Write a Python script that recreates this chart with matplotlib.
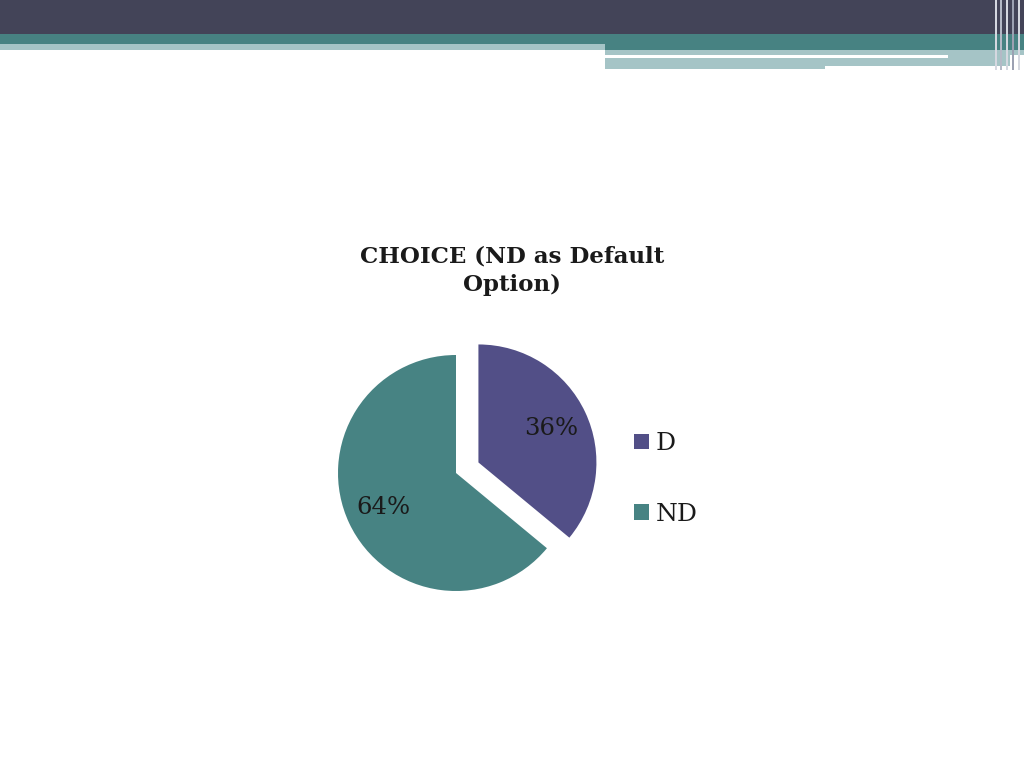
import matplotlib.pyplot as plt
from matplotlib.patches import Rectangle

# chart data
labels = ['D', 'ND']
shares = [36, 64]
colours = ['#524f87', '#478383']
title = 'CHOICE (ND as Default\nOption)'

W, H = 1024, 768
fig = plt.figure(figsize=(W / 100, H / 100), dpi=100)
fig.patch.set_facecolor('white')


def band(x0, y0, x1, y1, colour):
    # pixel box, y measured from the top
    fig.patches.append(Rectangle((x0 / W, 1 - y1 / H), (x1 - x0) / W, (y1 - y0) / H,
                                 transform=fig.transFigure, facecolor=colour,
                                 edgecolor='none', zorder=0))


# slide header
band(0, 0, W, 34, '#434458')
band(0, 34, W, 44, '#478282')
band(0, 44, 605, 50, '#a5c4c6')
band(605, 44, W, 50, '#478282')
band(605, 50, W, 55, '#a5c4c6')
band(605, 58, 948, 66, '#a5c4c6')
band(948, 55, 1010, 66, '#a5c4c6')
band(605, 66, 825, 69, '#a5c4c6')
for xv, c in [(995, '#d5d8e0'), (1000, '#b4b9c6'), (1006, '#d5d8e0'), (1012, '#9ca1b2'), (1018, '#d5d8e0')]:
    band(xv, 0, xv + 2, 70, c)

serif = ['DejaVu Serif']

# pie
cx, cy, r = 456, 473, 118
ax = fig.add_axes([(cx - r) / W, (H - cy - r) / H, 2 * r / W, 2 * r / H])
wedges, texts, autotexts = ax.pie(shares, colors=colours, startangle=90, counterclock=False,
                                  explode=[0.21, 0], autopct='%1.0f%%', pctdistance=0.68,
                                  textprops=dict(family=serif, fontsize=17.5,
                                                 color='#1a1a1a'))
for w in wedges:
    w.set_clip_on(False)
ax.set_xlim(-1, 1)
ax.set_ylim(-1, 1)
ax.set_aspect('equal')
ax.axis('off')

fig.text(512 / W, 1 - 271 / H, title, ha='center', va='center', family=serif,
         fontsize=16.5, fontweight='bold', color='#1a1a1a', linespacing=1.38)

leg = fig.legend(wedges, labels, loc='center left', bbox_to_anchor=(611 / W, 1 - 479 / H),
                 frameon=False, prop=dict(family=serif, size=18),
                 handlelength=0.6, handleheight=0.6, handletextpad=0.3, labelspacing=1.9)
for t in leg.get_texts():
    t.set_color('#1a1a1a')

fig.savefig('out.png', dpi=100)
